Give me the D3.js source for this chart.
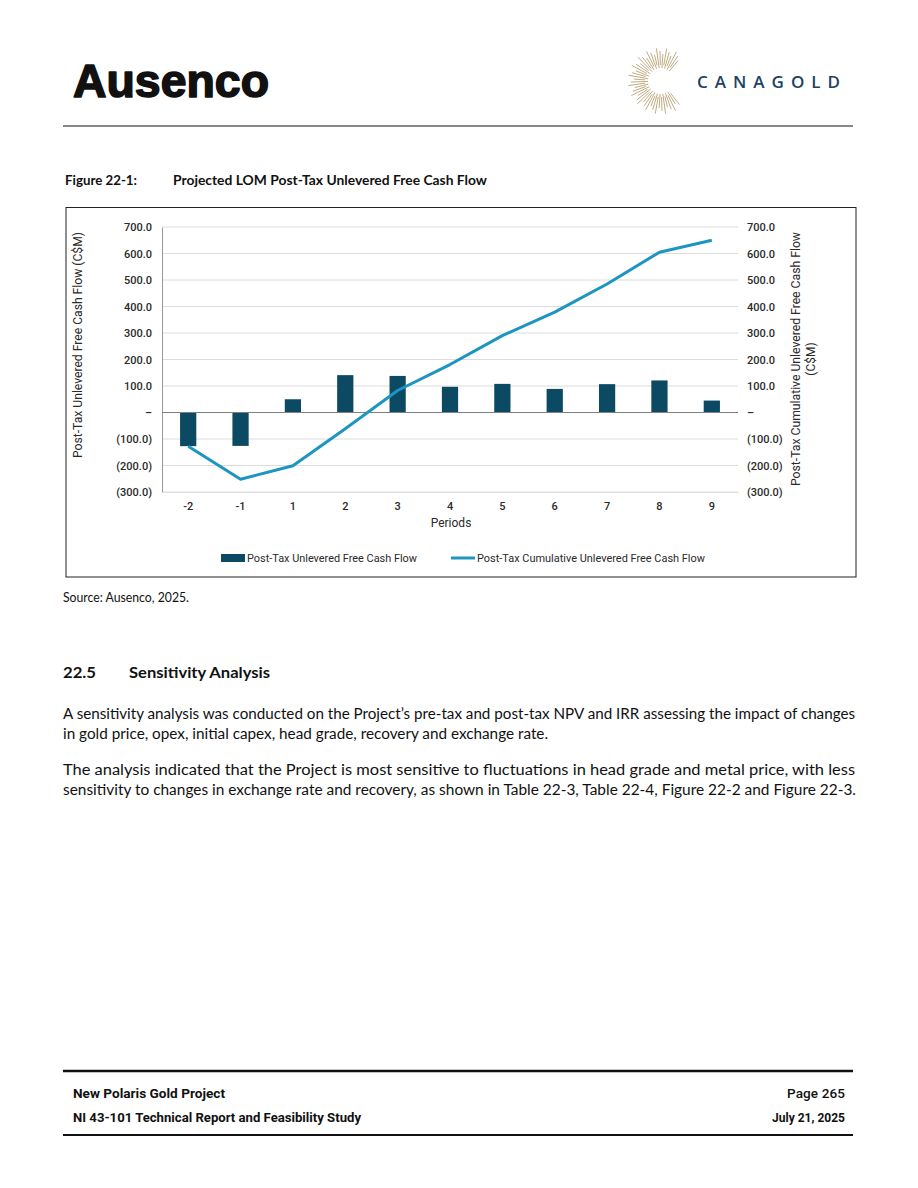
<!DOCTYPE html>
<html><head><meta charset="utf-8">
<script src="https://cdn.jsdelivr.net/npm/d3@7"></script>
<style>body{margin:0;background:#fff}svg{display:block}</style>
</head><body>
<svg id="page" width="918" height="1188"></svg>
<script>
// ---- data ----
const periods = ["-2","-1","1","2","3","4","5","6","7","8","9"];
const freeCashFlow = [-127, -126, 50, 141, 138, 97, 108, 89, 107, 121, 45];
const cumulativeCashFlow = [-127, -252, -201, -61, 83, 181, 290, 379, 485, 605, 650];
const yTicks = [-300, -200, -100, 0, 100, 200, 300, 400, 500, 600, 700];
const seriesNames = ["Post-Tax Unlevered Free Cash Flow", "Post-Tax Cumulative Unlevered Free Cash Flow"];

const svg = d3.select("#page");
svg.append("rect").attr("width",918).attr("height",1188).attr("fill","#fff");

function T(x,y,txt,attrs,len){const t=svg.append("text").attr("x",x).attr("y",y).text(txt);
  Object.entries(attrs).forEach(([k,v])=>t.attr(k,v)); if(len) t.attr("textLength",len).attr("lengthAdjust","spacingAndGlyphs"); return t;}

// ---- header ----
T(73,97,"Ausenco",{"font-family":"Liberation Sans, Arial, sans-serif","font-weight":"bold","font-size":46,
  "fill":"#111","stroke":"#111","stroke-width":1.6,"stroke-linejoin":"round"},196);
// sunburst
const sun = svg.append("g").attr("transform","translate(661,81)");
for (let a = 50, i = 0; a <= 310; a += 6, i++) {
  const r = a * Math.PI/180;
  const r0 = 13 + (i%2)*3, r1 = 27 + (i%3)*3;
  sun.append("line").attr("x1",Math.cos(r)*r0).attr("y1",-Math.sin(r)*r0)
    .attr("x2",Math.cos(r)*r1).attr("y2",-Math.sin(r)*r1)
    .attr("stroke","#b8a173").attr("stroke-width",0.9);
}
svg.append("text").attr("x",697).attr("y",88).attr("font-family","Open Sans, sans-serif").attr("font-weight",600)
  .attr("font-size",17).attr("fill","#1e4262").attr("textLength",143).attr("lengthAdjust","spacing").text("CANAGOLD");
svg.append("line").attr("x1",63).attr("x2",853).attr("y1",126).attr("y2",126).attr("stroke","#111").attr("stroke-width",1.2);

// ---- figure caption ----
const cap = {"font-family":"Lato, sans-serif","font-weight":"bold","font-size":13,"fill":"#111"};
T(65,185,"Figure 22-1:",cap,72);
T(173,185,"Projected LOM Post-Tax Unlevered Free Cash Flow",cap,314);

// ---- chart ----
svg.append("rect").attr("x",66).attr("y",207.5).attr("width",790).attr("height",369.5)
  .attr("fill","none").attr("stroke","#222").attr("stroke-width",1);

const x = d3.scaleBand().domain(periods).range([162,738]).padding(0);
const y = d3.scaleLinear().domain([-300,700]).range([492,227]);
const fmt = v => v===0 ? "–" : (v<0 ? "(" + d3.format(".1f")(-v) + ")" : d3.format(".1f")(v));
const tickFont = {"font-family":"Roboto, sans-serif","font-size":11,"font-weight":500,"fill":"#2a2a2a"};

// gridlines
svg.append("g").selectAll("line").data(yTicks.filter(d=>d!==0)).join("line")
  .attr("x1",162).attr("x2",738).attr("y1",d=>y(d)).attr("y2",d=>y(d))
  .attr("stroke","#dcdcdc").attr("stroke-width",1);

// left axis
const leftAxis = svg.append("g").attr("transform","translate(162,0)")
  .call(d3.axisLeft(y).tickValues(yTicks).tickFormat(fmt).tickSize(0).tickPadding(10));
leftAxis.select(".domain").attr("stroke","#999");
leftAxis.selectAll("text").each(function(){const s=d3.select(this);Object.entries(tickFont).forEach(([k,v])=>s.attr(k,v));});
// right axis
const rightAxis = svg.append("g").attr("transform","translate(738,0)")
  .call(d3.axisRight(y).tickValues(yTicks).tickFormat(fmt).tickSize(0).tickPadding(9));
rightAxis.select(".domain").remove();
rightAxis.selectAll("text").each(function(){const s=d3.select(this);Object.entries(tickFont).forEach(([k,v])=>s.attr(k,v));});

// bars
const bw = x.step()*0.31;
svg.append("g").selectAll("rect").data(periods).join("rect")
  .attr("x",(d)=>x(d)+x.bandwidth()/2-bw/2).attr("width",bw)
  .attr("y",(d,i)=>y(Math.max(0,freeCashFlow[i])))
  .attr("height",(d,i)=>Math.abs(y(freeCashFlow[i])-y(0)))
  .attr("fill","#0c4a64");

// zero line
svg.append("line").attr("x1",162).attr("x2",738).attr("y1",y(0)).attr("y2",y(0)).attr("stroke","#808080").attr("stroke-width",1.2);

// x axis labels
const xAxis = svg.append("g").attr("transform","translate(0,"+y(-300)+")")
  .call(d3.axisBottom(x).tickSize(0).tickPadding(10));
xAxis.select(".domain").attr("stroke","#e0e0e0");
xAxis.selectAll("text").each(function(){const s=d3.select(this);Object.entries(tickFont).forEach(([k,v])=>s.attr(k,v));});

// line
const line = d3.line().x((d,i)=>x(periods[i])+x.bandwidth()/2).y(d=>y(d));
svg.append("path").datum(cumulativeCashFlow).attr("d",line).attr("fill","none")
  .attr("stroke","#1c95c1").attr("stroke-width",3).attr("stroke-linejoin","round");

// axis titles
const titleFont = {"font-family":"Roboto, sans-serif","font-size":12,"fill":"#2a2a2a","text-anchor":"middle"};
T(451,527,"Periods",titleFont);
T(0,0,"Post-Tax Unlevered Free Cash Flow (C$M)",titleFont,226).attr("transform","translate(82,345) rotate(-90)");
T(0,0,"Post-Tax Cumulative Unlevered Free Cash Flow",titleFont,254).attr("transform","translate(800,359) rotate(-90)");
T(0,0,"(C$M)",titleFont).attr("transform","translate(815,359) rotate(-90)");

// legend
const legFont = {"font-family":"Roboto, sans-serif","font-size":11,"fill":"#2a2a2a"};
svg.append("rect").attr("x",221).attr("y",554).attr("width",24).attr("height",8).attr("fill","#0c4a64");
T(247,562,seriesNames[0],legFont,170);
svg.append("line").attr("x1",451).attr("x2",475).attr("y1",558).attr("y2",558).attr("stroke","#1c95c1").attr("stroke-width",3);
T(477,562,seriesNames[1],legFont,228);

// ---- body text ----
const body = {"font-family":"Lato, sans-serif","font-size":15.5,"fill":"#111"};
T(63,602,"Source: Ausenco, 2025.",Object.assign({},body,{"font-size":12.5}),126);
const h = Object.assign({},body,{"font-weight":"bold","font-size":15});
T(63,678,"22.5",h,33);
T(129,678,"Sensitivity Analysis",h,141);
T(63,719,"A sensitivity analysis was conducted on the Project’s pre-tax and post-tax NPV and IRR assessing the impact of changes",body,792);
T(63,739,"in gold price, opex, initial capex, head grade, recovery and exchange rate.",body,485);
T(63,775,"The analysis indicated that the Project is most sensitive to fluctuations in head grade and metal price, with less",body,792);
T(63,795,"sensitivity to changes in exchange rate and recovery, as shown in Table 22-3, Table 22-4, Figure 22-2 and Figure 22-3.",body,793);

// ---- footer ----
svg.append("line").attr("x1",63).attr("x2",853).attr("y1",1071).attr("y2",1071).attr("stroke","#111").attr("stroke-width",2.5);
svg.append("line").attr("x1",63).attr("x2",853).attr("y1",1135).attr("y2",1135).attr("stroke","#111").attr("stroke-width",2);
const foot = {"font-family":"Roboto, sans-serif","font-weight":"bold","font-size":13,"fill":"#111"};
T(73,1098,"New Polaris Gold Project",foot,152);
T(73,1122,"NI 43-101 Technical Report and Feasibility Study",foot,288);
svg.append("text").attr("x",787).attr("y",1098).attr("font-family","Roboto, sans-serif").attr("font-weight",500)
  .attr("font-size",13.5).attr("fill","#111").attr("textLength",58).attr("lengthAdjust","spacing").text("Page 265");
T(772,1122,"July 21, 2025",foot,73);
</script>
</body></html>
